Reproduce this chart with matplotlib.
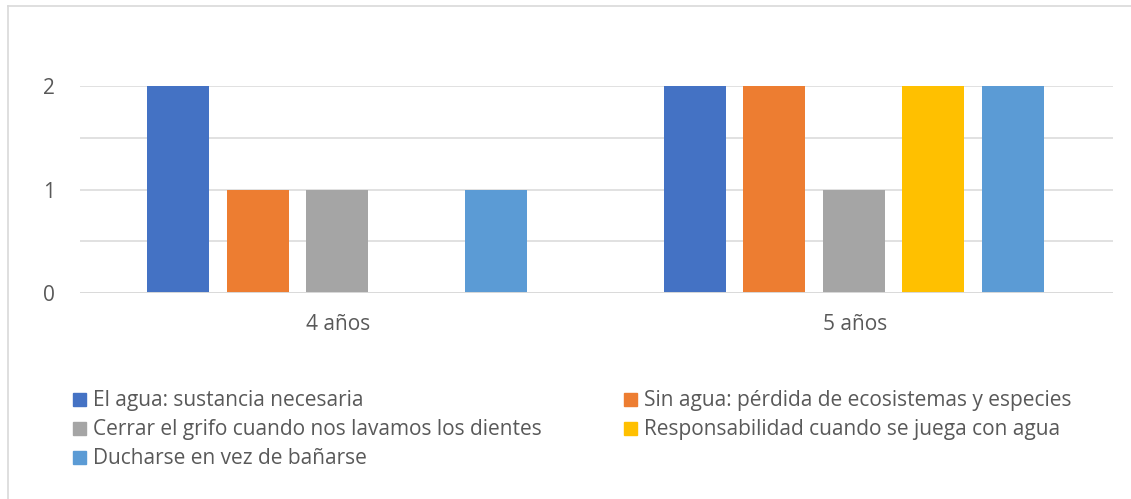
import matplotlib
matplotlib.use("Agg")
import matplotlib.pyplot as plt
from matplotlib.patches import Rectangle
from matplotlib.lines import Line2D
import numpy as np

categories = ["4 años", "5 años"]
series_names = [
    "El agua: sustancia necesaria",
    "Sin agua: pérdida de ecosistemas y especies",
    "Cerrar el grifo cuando nos lavamos los dientes",
    "Responsabilidad cuando se juega con agua",
    "Ducharse en vez de bañarse",
]
values_agua = [2, 2]
values_sin_agua = [1, 2]
values_grifo = [1, 1]
values_responsabilidad = [0, 2]
values_ducharse = [1, 2]
series_values = [values_agua, values_sin_agua, values_grifo,
                 values_responsabilidad, values_ducharse]
colors = ["#4472C4", "#ED7D31", "#A5A5A5", "#FFC000", "#5B9BD5"]
yticks = [0, 1, 2]

plt.rcParams['font.family'] = ['Open Sans', 'DejaVu Sans']
text_color = "#595959"
fs = 15

W, H = 1131, 499
fig = plt.figure(figsize=(W / 100, H / 100), dpi=100)

def fx(px):
    return px / W

def fy(py):
    return 1 - py / H

ax = fig.add_axes([fx(80), fy(293), fx(1113) - fx(80), fy(86) - fy(293)])
x = np.arange(len(categories))
width = 0.12
step = 0.154
for i, (vals, c) in enumerate(zip(series_values, colors)):
    ax.bar(x + (i - 2) * step - 0.002, vals, width=width, color=c, zorder=3)

ax.set_xlim(-0.5, len(categories) - 0.5)
ax.set_ylim(0, 2)
ax.set_yticks(yticks)
ax.set_yticklabels([str(t) for t in yticks])
for g in [0.5, 1, 1.5, 2]:
    ax.axhline(g, color="#D9D9D9", lw=1.1, zorder=1)
ax.axhline(0, color="#D9D9D9", lw=1.4, zorder=4)
ax.set_xticks(x)
ax.set_xticklabels(categories)
ax.tick_params(axis="both", length=0, colors=text_color, labelsize=fs)
ax.tick_params(axis="y", pad=18)
ax.tick_params(axis="x", pad=15)
for s in ax.spines.values():
    s.set_visible(False)

# Legend (row-major, two columns); (square left x, row baseline y)
legend_pos = [(73, 406), (624, 406), (73, 435), (624, 435), (73, 464)]
for (px, py), name, c in zip(legend_pos, series_names, colors):
    fig.patches.append(Rectangle((fx(px), fy(py)), fx(13), 13 / H,
                                 transform=fig.transFigure, color=c))
    fig.text(fx(px + 20), fy(py), name, color=text_color, fontsize=fs,
             va="baseline", ha="left")

# Chart border (top & left visible)
fig.add_artist(Line2D([fx(7.5), 1], [fy(5.5), fy(5.5)], color="#D9D9D9",
                      lw=1.2, transform=fig.transFigure))
fig.add_artist(Line2D([fx(7.5), fx(7.5)], [fy(5.5), 0], color="#D9D9D9",
                      lw=1.2, transform=fig.transFigure))

fig.savefig("out.png", dpi=100)
